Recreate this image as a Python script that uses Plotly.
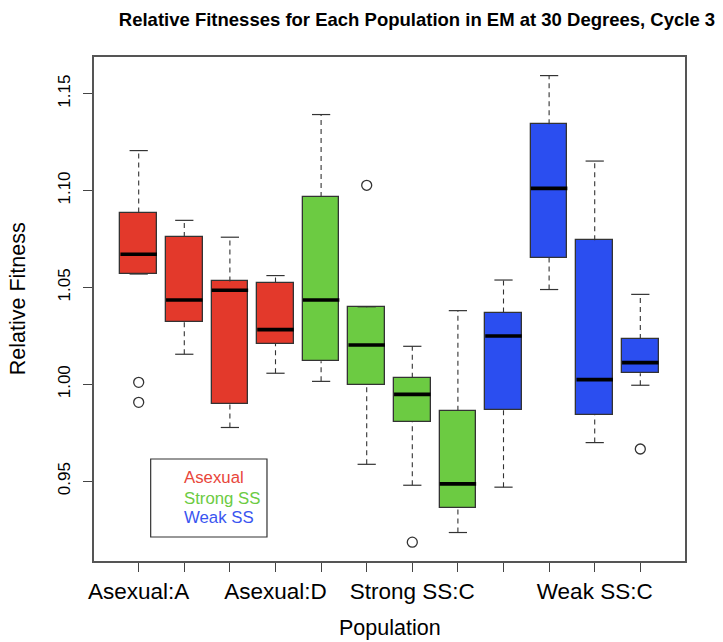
import plotly.graph_objects as go

# ---- data ----
categories = ["Asexual:A", "Asexual:B", "Asexual:C", "Asexual:D",
              "Strong SS:A", "Strong SS:B", "Strong SS:C", "Strong SS:D",
              "Weak SS:A", "Weak SS:B", "Weak SS:C", "Weak SS:D"]
tick_labels = ["Asexual:A", "", "", "Asexual:D", "", "", "Strong SS:C", "", "", "", "Weak SS:C", ""]
groups = ["Asexual"] * 4 + ["Strong SS"] * 4 + ["Weak SS"] * 4

lower_whisker = [1.0569, 1.0155, 0.9777, 1.0057, 1.0015, 0.9587, 0.9479, 0.9235, 0.9469, 1.0489, 0.9699, 0.9995]
q1            = [1.0569, 1.0322, 0.9900, 1.0210, 1.0119, 0.9995, 0.9806, 0.9362, 0.9867, 1.0652, 0.9840, 1.0057]
median        = [1.0671, 1.0435, 1.0485, 1.0282, 1.0435, 1.0203, 0.9948, 0.9486, 1.0249, 1.1011, 1.0024, 1.0112]
q3            = [1.0886, 1.0760, 1.0531, 1.0525, 1.0967, 1.0397, 1.0034, 0.9864, 1.0370, 1.1342, 1.0743, 1.0234]
upper_whisker = [1.1206, 1.0846, 1.0759, 1.0561, 1.1392, 1.0400, 1.0196, 1.0380, 1.0538, 1.1593, 1.1152, 1.0464]
outlier_index = [1, 1, 6, 7, 12]
outlier_value = [1.0010, 0.9907, 1.1027, 0.9185, 0.9666]

legend_labels = ["Asexual", "Strong SS", "Weak SS"]
y_ticks = [0.95, 1.00, 1.05, 1.10, 1.15]

# ---- styles ----
fill_colors = {"Asexual": "#E3392B", "Strong SS": "#6CCB42", "Weak SS": "#2B4EF0"}
text_colors = {"Asexual": "#E8453A", "Strong SS": "#6CCB42", "Weak SS": "#3A55F0"}
FONT = "Liberation Sans, Arial, Helvetica, sans-serif"
BOXW = 0.8
CAPW = 0.4
DARK = "#333333"

positions = list(range(1, len(categories) + 1))

fig = go.Figure()

# whiskers (dashed)
wx, wy = [], []
for p, lo, a, b, hi in zip(positions, lower_whisker, q1, q3, upper_whisker):
    wx += [p, p, None, p, p, None]
    wy += [lo, a, None, b, hi, None]
fig.add_trace(go.Scatter(x=wx, y=wy, mode="lines",
                         line=dict(color=DARK, width=1.1, dash="5px,4px"),
                         hoverinfo="skip", showlegend=False))
# staples
sx, sy = [], []
for p, lo, hi in zip(positions, lower_whisker, upper_whisker):
    sx += [p - CAPW / 2, p + CAPW / 2, None, p - CAPW / 2, p + CAPW / 2, None]
    sy += [lo, lo, None, hi, hi, None]
fig.add_trace(go.Scatter(x=sx, y=sy, mode="lines",
                         line=dict(color=DARK, width=1.2),
                         hoverinfo="skip", showlegend=False))

# boxes
fig.add_trace(go.Bar(x=positions, base=q1, y=[b - a for a, b in zip(q1, q3)],
                     width=BOXW,
                     marker=dict(color=[fill_colors[g] for g in groups],
                                 line=dict(color=DARK, width=1.3)),
                     hoverinfo="skip", showlegend=False))

# medians
mx, my = [], []
for p, m in zip(positions, median):
    mx += [p - BOXW / 2, p + BOXW / 2, None]
    my += [m, m, None]
fig.add_trace(go.Scatter(x=mx, y=my, mode="lines",
                         line=dict(color="black", width=3.6),
                         hoverinfo="skip", showlegend=False))

# outliers
fig.add_trace(go.Scatter(x=outlier_index, y=outlier_value, mode="markers",
                         marker=dict(symbol="circle-open", size=10,
                                     color=DARK, line=dict(width=1.3)),
                         hoverinfo="skip", showlegend=False))

# legend box
fig.add_shape(type="rect", xref="paper", yref="paper",
              x0=0.0959, x1=0.2927, y0=0.0476, y1=0.2024,
              line=dict(color=DARK, width=1.2), fillcolor="white")
legend_y = [0.1647, 0.125, 0.0867]
for lab, yy in zip(legend_labels, legend_y):
    fig.add_annotation(xref="paper", yref="paper", x=0.1494, y=yy,
                       text=lab, showarrow=False, xanchor="left", yanchor="middle",
                       font=dict(family=FONT, size=16.8, color=text_colors[lab]))

# axis titles
fig.add_annotation(xref="paper", yref="paper", x=0.5, y=-0.105,
                   text="Population", showarrow=False, yanchor="top",
                   font=dict(family=FONT, size=21.5, color="black"))
fig.add_annotation(xref="paper", yref="paper", x=-0.128, y=0.52,
                   text="Relative Fitness", showarrow=False, textangle=-90,
                   xanchor="center", yanchor="middle",
                   font=dict(family=FONT, size=21.5, color="black"))

fig.update_layout(
    width=723, height=642,
    margin=dict(l=94, r=38, t=57, b=81),
    paper_bgcolor="white", plot_bgcolor="white",
    font=dict(family=FONT, color="black"),
    title=dict(text="<b>Relative Fitnesses for Each Population in EM at 30 Degrees, Cycle 3</b>",
               x=0.5465, xref="paper", xanchor="center",
               y=1 - 19.5 / 642, yref="container", yanchor="middle",
               font=dict(family=FONT, size=18.5, color="black")),
    showlegend=False,
    bargap=0,
)
fig.update_xaxes(range=[0.02, 12.98], tickmode="array", tickvals=positions, ticktext=tick_labels,
                 showgrid=False, zeroline=False, showline=True, mirror=True,
                 linecolor="#555555", linewidth=1.5,
                 ticks="outside", ticklen=9, tickcolor="#444444", tickwidth=1.2,
                 tickfont=dict(family=FONT, size=22.5, color="black"))
fig.update_yaxes(range=[0.9088, 1.1689], tickmode="array", tickvals=y_ticks,
                 ticktext=[f"{v:.2f}" for v in y_ticks], tickangle=-90,
                 showgrid=False, zeroline=False, showline=True, mirror=True,
                 linecolor="#555555", linewidth=1.5,
                 ticks="outside", ticklen=9, tickcolor="#444444", tickwidth=1.2,
                 ticklabelstandoff=6,
                 tickfont=dict(family=FONT, size=17, color="black"))

fig.write_html("out.html", config={"displayModeBar": False})
